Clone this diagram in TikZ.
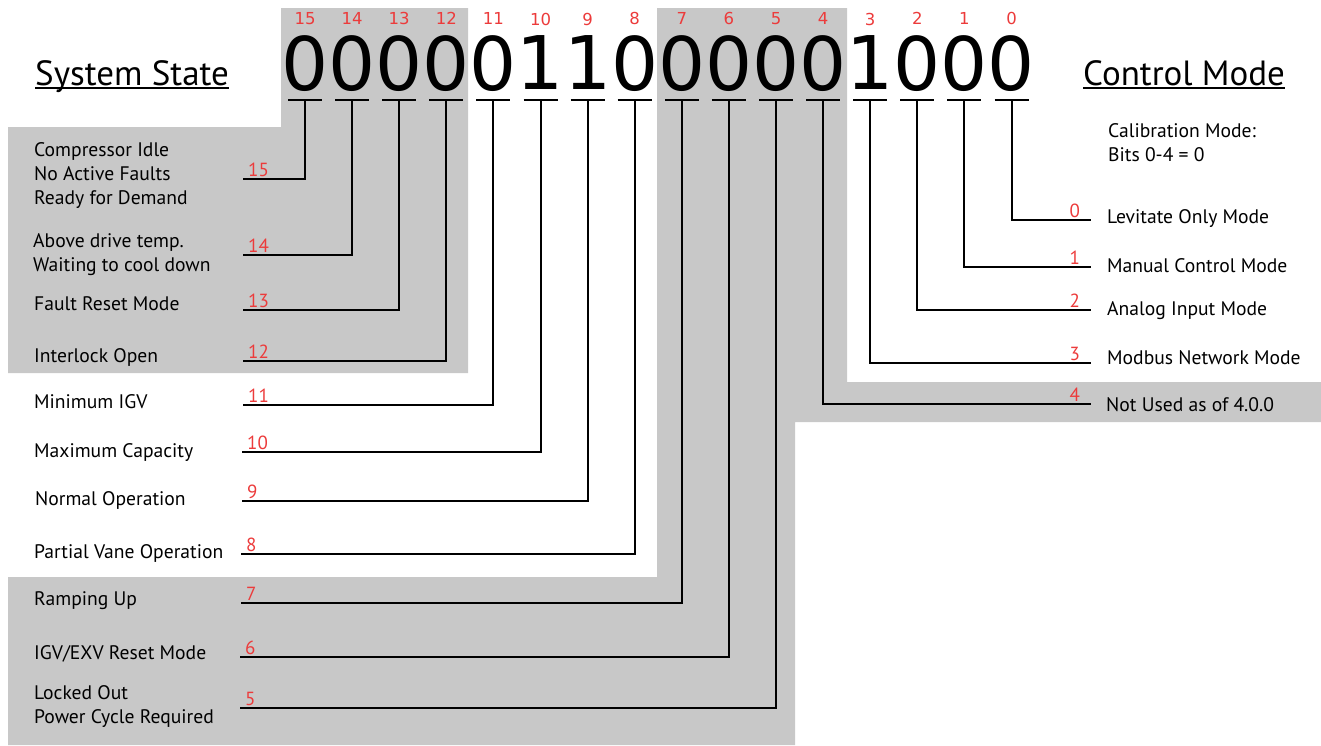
\documentclass[tikz,border=0pt]{standalone}
\usepackage{fontspec}
\setmainfont{PT Sans}
\newfontfamily\digitfont{DejaVu Sans}
\usepackage{tikz}
\usetikzlibrary{positioning}

\definecolor{panel}{HTML}{C8C8C8}
\definecolor{bitred}{HTML}{EC3B3B}

\begin{document}
\begin{tikzpicture}[
    x=1pt, y=-1pt,
    digit/.style={
        inner sep=0pt,
        outer sep=0pt,
        text width=47.1pt,
        align=center,
        text depth=10pt,
        font=\digitfont\fontsize{74}{74}\selectfont
    },
    bitnum/.style={
        inner sep=0pt,
        text=bitred,
        font=\digitfont\fontsize{16.5}{16.5}\selectfont
    },
    title/.style={
        inner sep=0pt,
        font=\fontsize{35}{40}\selectfont
    },
    desc/.style={
        inner sep=0pt,
        align=left,
        font=\fontsize{19.6}{24}\selectfont
    },
    tag/.style={
        inner xsep=5pt,
        inner ysep=2.5pt,
        text=bitred,
        font=\fontsize{19}{19}\selectfont
    },
    rtag/.style={
        tag,
        inner xsep=0pt,
        minimum width=32pt
    },
    wire/.style={
        line width=2pt
    }
]
\useasboundingbox (0,0) rectangle (1321,745);

% Grey panels
\fill[panel] (281,8) -- (468,8) -- (468,373) -- (8,373) -- (8,127) -- (281,127) -- cycle;
\fill[panel] (657,8) -- (847,8) -- (847,382) -- (1321,382) -- (1321,422)
    -- (795,422) -- (795,745) -- (8,745) -- (8,577) -- (657,577) -- cycle;

% Titles
\node[title, anchor=base west] (sys) at (35,85) {System State};
\node[title, anchor=base west] (ctrl) at (1083,85) {Control Mode};
\draw[wire] ([yshift=-3pt]sys.base west) -- ([yshift=-3pt]sys.base east);
\draw[wire] ([yshift=-3pt]ctrl.base west) -- ([yshift=-3pt]ctrl.base east);

% Bit row
\node[digit, anchor=base] (d15) at (305,90) {0};
\node[digit, right=0pt of d15] (d14) {0};
\node[digit, right=0pt of d14] (d13) {0};
\node[digit, right=0pt of d13] (d12) {0};
\node[digit, right=0pt of d12] (d11) {0};
\node[digit, right=0pt of d11] (d10) {1};
\node[digit, right=0pt of d10] (d9) {1};
\node[digit, right=0pt of d9] (d8) {0};
\node[digit, right=0pt of d8] (d7) {0};
\node[digit, right=0pt of d7] (d6) {0};
\node[digit, right=0pt of d6] (d5) {0};
\node[digit, right=0pt of d5] (d4) {0};
\node[digit, right=0pt of d4] (d3) {1};
\node[digit, right=0pt of d3] (d2) {0};
\node[digit, right=0pt of d2] (d1) {0};
\node[digit, right=0pt of d1] (d0) {0};

\foreach \b in {0,...,15} {
    \node[bitnum, above=10pt of d\b] (b\b) {\b};
    \draw[wire] ([xshift=-17pt]d\b.south) -- ([xshift=17pt]d\b.south);
}

% System state bits
\node[desc, anchor=west] (s15) at (34,176) {Compressor Idle\\No Active Faults\\Ready for Demand};
\node[tag, anchor=south west] (n15) at (243,179) {15};
\draw[wire] (d15.south) |- (n15.south west);

\node[desc, anchor=west] (s14) at (33,255) {Above drive temp.\\Waiting to cool down};
\node[tag, anchor=south west] (n14) at (243,255) {14};
\draw[wire] (d14.south) |- (n14.south west);

\node[desc, anchor=base west] (s13) at (34,310) {Fault Reset Mode};
\node[tag, anchor=south west] (n13) at (243,310) {13};
\draw[wire] (d13.south) |- (n13.south west);

\node[desc, anchor=base west] (s12) at (34,362) {Interlock Open};
\node[tag, anchor=south west] (n12) at (243,361) {12};
\draw[wire] (d12.south) |- (n12.south west);

\node[desc, anchor=base west] (s11) at (34,408) {Minimum IGV};
\node[tag, anchor=south west] (n11) at (243,405) {11};
\draw[wire] (d11.south) |- (n11.south west);

\node[desc, anchor=base west] (s10) at (34,457) {Maximum Capacity};
\node[tag, anchor=south west] (n10) at (242,452) {10};
\draw[wire] (d10.south) |- (n10.south west);

\node[desc, anchor=base west] (s9) at (35,505) {Normal Operation};
\node[tag, anchor=south west] (n9) at (242,501) {9};
\draw[wire] (d9.south) |- (n9.south west);

\node[desc, anchor=base west] (s8) at (34,558) {Partial Vane Operation};
\node[tag, anchor=south west] (n8) at (241,554) {8};
\draw[wire] (d8.south) |- (n8.south west);

\node[desc, anchor=base west] (s7) at (34,605) {Ramping Up};
\node[tag, anchor=south west] (n7) at (241,603) {7};
\draw[wire] (d7.south) |- (n7.south west);

\node[desc, anchor=base west] (s6) at (34,659) {IGV/EXV Reset Mode};
\node[tag, anchor=south west] (n6) at (240,657) {6};
\draw[wire] (d6.south) |- (n6.south west);

\node[desc, anchor=west] (s5) at (34,707) {Locked Out\\Power Cycle Required};
\node[tag, anchor=south west] (n5) at (240,708) {5};
\draw[wire] (d5.south) |- (n5.south west);

% Control mode bits
\node[desc, anchor=west] (calib) at (1108,143) {Calibration Mode:\\Bits 0-4 = 0};

\node[desc, anchor=base west] (c0) at (1107,223) {Levitate Only Mode};
\node[rtag, anchor=south east] (m0) at (1091,220) {0};
\draw[wire] (d0.south) |- (m0.south east);

\node[desc, anchor=base west] (c1) at (1107,272) {Manual Control Mode};
\node[rtag, anchor=south east] (m1) at (1091,267) {1};
\draw[wire] (d1.south) |- (m1.south east);

\node[desc, anchor=base west] (c2) at (1107,315) {Analog Input Mode};
\node[rtag, anchor=south east] (m2) at (1091,310) {2};
\draw[wire] (d2.south) |- (m2.south east);

\node[desc, anchor=base west] (c3) at (1107,364) {Modbus Network Mode};
\node[rtag, anchor=south east] (m3) at (1091,363) {3};
\draw[wire] (d3.south) |- (m3.south east);

\node[desc, anchor=base west] (c4) at (1106,411) {Not Used as of 4.0.0};
\node[rtag, anchor=south east] (m4) at (1091,404) {4};
\draw[wire] (d4.south) |- (m4.south east);

\end{tikzpicture}
\end{document}
